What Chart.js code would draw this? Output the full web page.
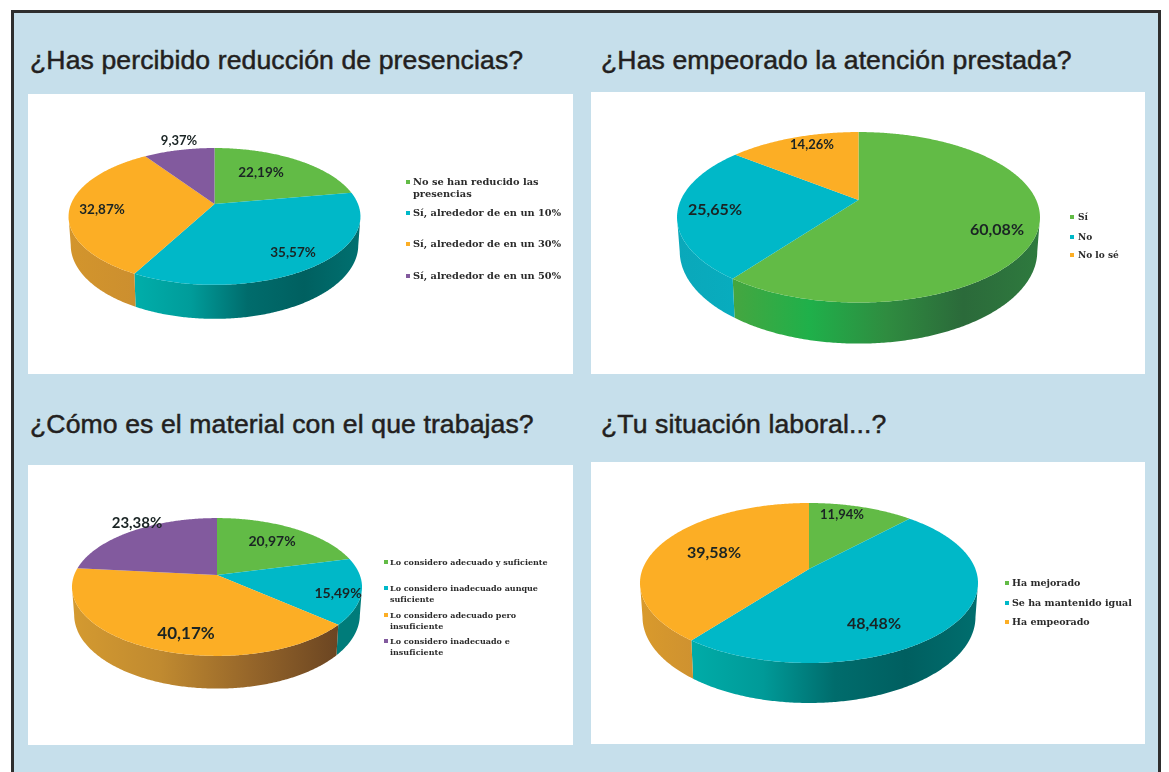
<!DOCTYPE html>
<html lang="es">
<head>
<meta charset="utf-8">
<title>Encuesta</title>
<script src="https://cdn.jsdelivr.net/npm/chart.js@4"></script>
<style>
  html, body { margin: 0; height: 100%; overflow: hidden; background: #fff; }
  #frame { position: absolute; left: 11px; top: 10px; width: 1144px; height: 800px; background: #c6dfeb; border: 3px solid #2e2e2e; }
  .panel { position: absolute; background: #fff; }
  .title { position: absolute; font: 26.6px "Liberation Sans", Arial, sans-serif; color: #231f20; -webkit-text-stroke: 0.5px #231f20; letter-spacing: 0.1px; white-space: nowrap; line-height: 28px; }
  canvas { position: absolute; left: 0; top: 0; filter: blur(0.4px); }
  .legend-item { position: absolute; font-family: "DejaVu Serif", serif; font-weight: bold; color: #2a2a2a; filter: blur(0.3px); }
  .legend-swatch { position: absolute; width: 4px; height: 4px; }
</style>
</head>
<body>
<div id="frame"></div>
<div id="page"></div>
<script>
// Chart 1: ¿Has percibido reducción de presencias?
const presenciasLabels = ['No se han reducido las presencias', 'Sí, alrededor de en un 10%', 'Sí, alrededor de en un 30%', 'Sí, alrededor de en un 50%'];
const presenciasValues = [22.19, 35.57, 32.87, 9.37];

// Chart 2: ¿Has empeorado la atención prestada?
const atencionLabels = ['Sí', 'No', 'No lo sé'];
const atencionValues = [60.08, 25.65, 14.26];

// Chart 3: ¿Cómo es el material con el que trabajas?
const materialLabels = ['Lo considero adecuado y suficiente', 'Lo considero inadecuado aunque suficiente', 'Lo considero adecuado pero insuficiente', 'Lo considero inadecuado e insuficiente'];
const materialValues = [20.97, 15.49, 40.17, 23.38];

// Chart 4: ¿Tu situación laboral...?
const laboralLabels = ['Ha mejorado', 'Se ha mantenido igual', 'Ha empeorado'];
const laboralValues = [11.94, 48.48, 39.58];

const GREEN = '#62bb46';
const TEAL = '#00b8c8';
const ORANGE = '#fcae25';
const PURPLE = '#825a9e';

const PAGE_W = 1169;
const PAGE_H = 772;

// Layout and styling of each panel
const panels = [
  {
    title: '¿Has percibido reducción de presencias?', titleAt: [30, 46],
    box: [28, 94, 545, 280],
    labels: presenciasLabels, values: presenciasValues,
    colors: [GREEN, TEAL, ORANGE, PURPLE],
    pie: { cx: 214.5, cy: 204, r: 143.5, squash: 0.461, tilt: 0.182, depth: 27.8 },
    walls: [null, ['#00aeaa', '#009c9a', '#006c6c', '#006060', '#007070'], ['#d3952c', '#cc8f2f'], null],
    valueAt: [[261, 173, 13.5], [293, 253, 13.5], [102, 210, 13.5], [179, 141, 13]],
    legend: { swatchX: 408, textX: 413, width: 155, font: 9.8, lineHeight: 12, ys: [182, 213, 244, 276] }
  },
  {
    title: '¿Has empeorado la atención prestada?', titleAt: [601, 46],
    box: [591, 92, 554, 282],
    labels: atencionLabels, values: atencionValues,
    colors: [GREEN, TEAL, ORANGE],
    pie: { cx: 858.5, cy: 200, r: 177.7, squash: 0.46, tilt: 0.203, depth: 32.7 },
    walls: [['#45a640', '#1fb04a', '#2f8c40', '#2b6a3a', '#2e7a3e'], ['#0aa8ba', '#08acbe'], null],
    valueAt: [[997, 230, 16], [715, 210, 16], [812, 145, 13]],
    legend: { swatchX: 1072, textX: 1078, width: 70, font: 9, lineHeight: 11, ys: [217, 237, 255] }
  },
  {
    title: '¿Cómo es el material con el que trabajas?', titleAt: [30, 410],
    box: [28, 465, 545, 280],
    labels: materialLabels, values: materialValues,
    colors: [GREEN, TEAL, ORANGE, PURPLE],
    pie: { cx: 217, cy: 575, r: 142.8, squash: 0.468, tilt: 0.174, depth: 27 },
    walls: [null, ['#007c7a', '#007c7a'], ['#d49a30', '#c08a30', '#96662a', '#6b4522'], null],
    valueAt: [[272, 541, 14], [338, 593, 14], [186, 634, 17], [137, 523, 15]],
    legend: { swatchX: 386, textX: 390, width: 160, font: 8, lineHeight: 11, ys: [562, 588, 615, 641] }
  },
  {
    title: '¿Tu situación laboral...?', titleAt: [601, 410],
    box: [591, 462, 554, 282],
    labels: laboralLabels, values: laboralValues,
    colors: [GREEN, TEAL, ORANGE],
    pie: { cx: 809, cy: 569, r: 166.4, squash: 0.466, tilt: 0.175, depth: 33 },
    walls: [null, ['#00aca8', '#009a98', '#006c6c', '#005f60', '#006e6e'], ['#d99a2c', '#cf9230']],
    valueAt: [[842, 515, 13], [874, 624, 16], [714, 553, 16]],
    legend: { swatchX: 1007, textX: 1012, width: 140, font: 9.5, lineHeight: 12, ys: [583, 603, 622] }
  }
];

// Perspective projection of a point of the pie's circle onto the page
function project(arc, pie, angle) {
  const u = Math.cos(angle);
  const v = Math.sin(angle);
  const w = 1 - pie.tilt * v;
  return {
    x: arc.x + arc.outerRadius * u / w,
    y: arc.y + arc.outerRadius * pie.squash * v / w,
    v: v,
    drop: pie.depth / w
  };
}

// Sample the rim of one slice
function rimPoints(arc, pie) {
  const pts = [];
  const steps = Math.max(2, Math.ceil((arc.endAngle - arc.startAngle) / 0.01));
  for (let i = 0; i <= steps; i++) {
    pts.push(project(arc, pie, arc.startAngle + (arc.endAngle - arc.startAngle) * i / steps));
  }
  return pts;
}

// Side wall of one slice, with a horizontal shading
function drawWall(ctx, arc, pie, stops) {
  const pts = rimPoints(arc, pie);
  const front = pts.filter((p) => p.v >= pie.tilt);
  if (!stops || front.length < 2) return;
  const xs = front.map((p) => p.x);
  const grad = ctx.createLinearGradient(Math.min(...xs), 0, Math.max(...xs), 0);
  stops.forEach((c, i) => grad.addColorStop(i / (stops.length - 1), c));
  ctx.beginPath();
  front.forEach((p, i) => (i ? ctx.lineTo(p.x, p.y) : ctx.moveTo(p.x, p.y)));
  front.slice().reverse().forEach((p) => {
    ctx.lineTo(arc.x + (p.x - arc.x) * 0.985, p.y + p.drop);
  });
  ctx.closePath();
  ctx.fillStyle = grad;
  ctx.fill();
}

// Top face of one slice
function drawTop(ctx, arc, pie, color) {
  ctx.beginPath();
  ctx.moveTo(arc.x, arc.y);
  rimPoints(arc, pie).forEach((p) => ctx.lineTo(p.x, p.y));
  ctx.closePath();
  ctx.fillStyle = color;
  ctx.fill();
}

// Replaces the flat arcs with the tilted 3D pie, and writes the percentages
const pie3d = {
  id: 'pie3d',
  beforeDatasetDraw(chart) {
    const cfg = chart.options.plugins.pie3d;
    const arcs = chart.getDatasetMeta(0).data;
    arcs.forEach((arc, i) => drawWall(chart.ctx, arc, cfg.pie, cfg.walls[i]));
    arcs.forEach((arc, i) => drawTop(chart.ctx, arc, cfg.pie, cfg.colors[i]));
    return false;
  },
  afterDraw(chart) {
    const cfg = chart.options.plugins.pie3d;
    const ctx = chart.ctx;
    ctx.save();
    ctx.textAlign = 'center';
    ctx.textBaseline = 'middle';
    ctx.fillStyle = '#1a2424';
    chart.data.datasets[0].data.forEach((value, i) => {
      const [x, y, size] = cfg.valueAt[i];
      ctx.font = `bold ${size}px Lato, sans-serif`;
      ctx.fillText(value.toFixed(2).replace('.', ',') + '%', x, y);
    });
    ctx.restore();
  }
};

const page = document.getElementById('page');

function addPanel(p) {
  const box = document.createElement('div');
  box.className = 'panel';
  box.style.cssText = `left:${p.box[0]}px;top:${p.box[1]}px;width:${p.box[2]}px;height:${p.box[3]}px`;
  page.appendChild(box);

  const title = document.createElement('div');
  title.className = 'title';
  title.textContent = p.title;
  title.style.left = p.titleAt[0] + 'px';
  title.style.top = p.titleAt[1] + 'px';
  page.appendChild(title);
}

function addLegend(p) {
  const lg = p.legend;
  p.labels.forEach((label, i) => {
    const item = document.createElement('div');
    item.className = 'legend-item';
    item.textContent = label;
    item.style.cssText = `left:${lg.textX}px;top:${lg.ys[i] - lg.lineHeight / 2}px;width:${lg.width}px;font-size:${lg.font}px;line-height:${lg.lineHeight}px`;
    page.appendChild(item);

    const swatch = document.createElement('div');
    swatch.className = 'legend-swatch';
    swatch.style.cssText = `left:${lg.swatchX - 2}px;top:${lg.ys[i] - 2}px;background:${p.colors[i]}`;
    page.appendChild(swatch);
  });
}

function addChart(p) {
  const canvas = document.createElement('canvas');
  canvas.width = PAGE_W;
  canvas.height = PAGE_H;
  page.appendChild(canvas);
  const { cx, cy, r } = p.pie;
  new Chart(canvas, {
    type: 'pie',
    data: {
      labels: p.labels,
      datasets: [{ data: p.values, backgroundColor: p.colors, borderWidth: 0 }]
    },
    options: {
      responsive: false,
      animation: false,
      events: [],
      layout: { padding: { left: cx - r, right: PAGE_W - cx - r, top: cy - r, bottom: PAGE_H - cy - r } },
      plugins: {
        legend: { display: false },
        tooltip: { enabled: false },
        pie3d: p
      }
    },
    plugins: [pie3d]
  });
}

panels.forEach(addPanel);
panels.forEach(addChart);
panels.forEach(addLegend);
</script>
</body>
</html>
